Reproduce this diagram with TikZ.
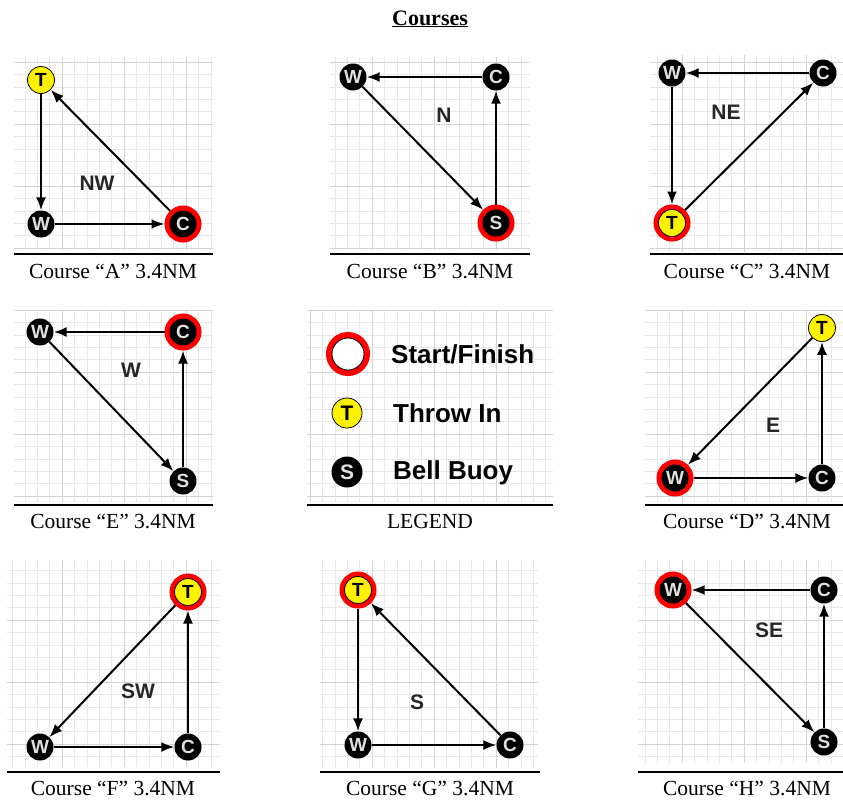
\documentclass[tikz,border=0pt]{standalone}
\usepackage{fontspec}
\setmainfont{Liberation Serif}
\setsansfont{Liberation Sans}
\usetikzlibrary{arrows.meta}
\newcommand\panelgrid[4]{%
  \draw[minorgrid] (#1,#2) grid[step=12.4pt] (#3,#4);
  \draw[majorgrid] (#1,#2) grid[step=62pt] (#3,#4);}
\begin{document}
\begin{tikzpicture}[x=1pt,y=-1pt,
 minorgrid/.style={draw=black!9, line width=0.6pt},
 majorgrid/.style={draw=black!17, line width=0.7pt},
 rule/.style={line width=1.5pt},
 caption/.style={font=\fontsize{21.5}{24}\selectfont, inner sep=0},
 buoy/.style={circle, fill=black, minimum size=27pt, inner sep=0, font=\sffamily\bfseries\fontsize{19}{19}\selectfont, text=white!88!black},
 throwin/.style={buoy, fill=yellow, draw=black, line width=0.8pt, text=black},
 startfin/.style={preaction={draw=red, line width=10pt}, outer sep=5pt},
 legstart/.style={circle, fill=white, draw=black, line width=0.8pt, minimum size=32pt, inner sep=0, preaction={draw=red, line width=12pt}},
 dir/.style={font=\sffamily\bfseries\fontsize{21}{21}\selectfont, text=black!85, inner sep=0},
 leg/.style={font=\sffamily\bfseries\fontsize{26}{26}\selectfont, anchor=base west, inner sep=0},
 course/.style={-{Latex[length=13pt,width=10pt]}, line width=2pt}
]
\useasboundingbox (0,0) rectangle (843,803);

% title
\node[font=\bfseries\fontsize{22}{24}\selectfont, anchor=base, inner sep=0] (title) at (430,25) {\underline{Courses}};

% ---------- Course A ----------
\panelgrid{14}{57}{213}{250}
\draw[rule] (14,254) -- (213,254);
\node[caption] (capA) at (113,271) {Course “A” 3.4NM};
\node[throwin] (AT) at (41,80) {T};
\node[buoy] (AW) at (41,224) {W};
\node[buoy,startfin] (AC) at (183,224) {C};
\node[dir] (AL) at (97,183) {NW};
\draw[course] (AC) -- (AT);
\draw[course] (AT) -- (AW);
\draw[course] (AW) -- (AC);

% ---------- Course B ----------
\panelgrid{330}{57}{530}{250}
\draw[rule] (330,254) -- (530,254);
\node[caption] (capB) at (430,271) {Course “B” 3.4NM};
\node[buoy] (BW) at (353,77) {W};
\node[buoy] (BC) at (496,77) {C};
\node[buoy,startfin] (BS) at (496,223) {S};
\node[dir] (BL) at (444,115) {N};
\draw[course] (BC) -- (BW);
\draw[course] (BW) -- (BS);
\draw[course] (BS) -- (BC);

% ---------- Course C ----------
\panelgrid{650}{55}{843}{252}
\draw[rule] (650,254) -- (843,254);
\node[caption] (capC) at (747,271) {Course “C” 3.4NM};
\node[buoy] (CW) at (672,73) {W};
\node[buoy] (CC) at (823,73) {C};
\node[throwin,startfin] (CT) at (672,223) {T};
\node[dir] (CL) at (726,112) {NE};
\draw[course] (CC) -- (CW);
\draw[course] (CW) -- (CT);
\draw[course] (CT) -- (CC);

% ---------- Course E ----------
\panelgrid{14}{310}{213}{502}
\draw[rule] (14,505) -- (213,505);
\node[caption] (capE) at (113,521) {Course “E” 3.4NM};
\node[buoy] (EW) at (40,332) {W};
\node[buoy,startfin] (EC) at (183,332) {C};
\node[buoy] (ES) at (183,481) {S};
\node[dir] (EL) at (131,370) {W};
\draw[course] (EC) -- (EW);
\draw[course] (EW) -- (ES);
\draw[course] (ES) -- (EC);

% ---------- Legend ----------
\panelgrid{307}{310}{553}{502}
\draw[rule] (307,505) -- (553,505);
\node[caption] (capL) at (430,521) {LEGEND};
\node[legstart] (LSF) at (348,354) {};
\node[leg] (LSFt) at (391,363.5) {Start/Finish};
\node[throwin, minimum size=30pt, font=\sffamily\bfseries\fontsize{21}{21}\selectfont] (LT) at (347,413) {T};
\node[leg] (LTt) at (393,422.5) {Throw In};
\node[buoy, minimum size=31pt, font=\sffamily\bfseries\fontsize{21}{21}\selectfont] (LS) at (347,472) {S};
\node[leg] (LSt) at (393,479.5) {Bell Buoy};

% ---------- Course D ----------
\panelgrid{645}{310}{843}{502}
\draw[rule] (645,505) -- (843,505);
\node[caption] (capD) at (747,521) {Course “D” 3.4NM};
\node[throwin] (DT) at (822,328) {T};
\node[buoy] (DC) at (822,478) {C};
\node[buoy,startfin] (DW) at (675,478) {W};
\node[dir] (DL) at (773,425) {E};
\draw[course] (DT) -- (DW);
\draw[course] (DW) -- (DC);
\draw[course] (DC) -- (DT);

% ---------- Course F ----------
\panelgrid{7}{560}{220}{767}
\draw[rule] (7,772) -- (220,772);
\node[caption] (capF) at (113,788) {Course “F” 3.4NM};
\node[throwin,startfin] (FT) at (188,592) {T};
\node[buoy] (FW) at (40,747) {W};
\node[buoy] (FC) at (188,747) {C};
\node[dir] (FL) at (138,691) {SW};
\draw[course] (FT) -- (FW);
\draw[course] (FW) -- (FC);
\draw[course] (FC) -- (FT);

% ---------- Course G ----------
\panelgrid{320}{560}{538}{768}
\draw[rule] (320,772) -- (540,772);
\node[caption] (capG) at (430,788) {Course “G” 3.4NM};
\node[throwin,startfin] (GT) at (358,590) {T};
\node[buoy] (GW) at (358,745) {W};
\node[buoy] (GC) at (510,745) {C};
\node[dir] (GL) at (417,702) {S};
\draw[course] (GC) -- (GT);
\draw[course] (GT) -- (GW);
\draw[course] (GW) -- (GC);

% ---------- Course H ----------
\panelgrid{638}{560}{843}{763}
\draw[rule] (638,772) -- (843,772);
\node[caption] (capH) at (747,788) {Course “H” 3.4NM};
\node[buoy,startfin] (HW) at (673,590) {W};
\node[buoy] (HC) at (824,590) {C};
\node[buoy] (HS) at (824,742) {S};
\node[dir] (HL) at (769,630) {SE};
\draw[course] (HC) -- (HW);
\draw[course] (HW) -- (HS);
\draw[course] (HS) -- (HC);
\end{tikzpicture}
\end{document}
